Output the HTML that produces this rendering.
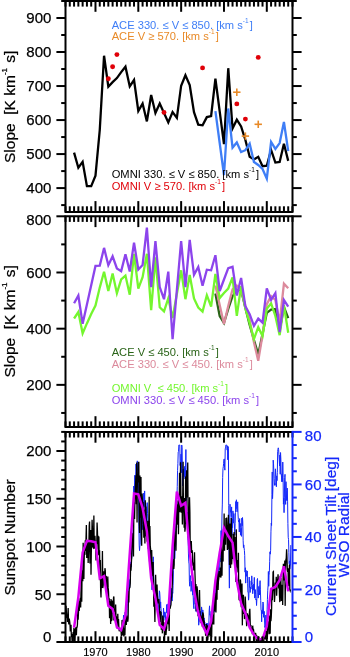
<!DOCTYPE html>
<html><head><meta charset="utf-8"><title>Slope plots</title>
<style>html,body{margin:0;padding:0;background:#fff;width:350px;height:657px;overflow:hidden;font-family:"Liberation Sans",sans-serif}</style>
</head><body><svg width="350" height="657" viewBox="0 0 350 657" font-family="&quot;Liberation Sans&quot;, sans-serif" style="display:block;will-change:transform"><rect width="350" height="657" fill="#fff"/>
<polyline points="74.07,152.60 78.35,167.70 82.63,161.80 86.92,186.20 91.20,186.20 95.48,175.70 99.76,130.00 104.05,55.70 108.33,86.70 112.61,82.10 116.90,78.10 121.18,72.10 125.46,66.70 129.75,86.40 134.03,80.00 138.31,111.00 142.59,103.60 146.88,121.40 151.16,95.00 155.44,112.90 159.73,103.60 164.01,112.90 168.29,122.40 172.58,112.10 176.86,117.90 181.14,85.70 185.42,75.30 189.71,85.00 193.99,112.10 198.27,124.70 202.56,125.30 206.84,117.10 211.12,116.00 215.41,78.60 219.69,111.40 223.97,144.20 228.25,68.20 232.54,128.50 236.82,119.70 241.10,126.50 245.39,140.00 249.67,156.80 253.95,159.50 258.24,156.80 262.52,166.20 266.80,165.70 271.08,150.00 275.37,162.60 279.65,162.00 283.93,143.70 288.22,160.90" fill="none" stroke="#000" stroke-width="2.3" stroke-linejoin="miter" stroke-miterlimit="4" />
<polyline points="215.41,111.10 219.69,143.00 223.97,175.20 228.25,108.50 232.54,147.60 236.82,142.50 241.10,152.10 245.39,150.20 249.67,143.70 253.95,162.00 258.24,165.00 262.52,169.00 266.80,178.60 271.08,142.00 275.37,148.90 279.65,143.10 283.93,122.00 288.22,151.10" fill="none" stroke="#3f7ef6" stroke-width="2.3" stroke-linejoin="miter" stroke-miterlimit="4" />
<circle cx="108.33" cy="78.80" r="2.45" fill="#e00008"/>
<circle cx="112.61" cy="66.70" r="2.45" fill="#e00008"/>
<circle cx="116.90" cy="54.60" r="2.45" fill="#e00008"/>
<circle cx="164.01" cy="112.40" r="2.45" fill="#e00008"/>
<circle cx="202.56" cy="67.90" r="2.45" fill="#e00008"/>
<circle cx="236.82" cy="103.90" r="2.45" fill="#e00008"/>
<circle cx="245.39" cy="119.10" r="2.45" fill="#e00008"/>
<circle cx="258.24" cy="57.40" r="2.45" fill="#e00008"/>
<line x1="233.12" y1="92.20" x2="240.52" y2="92.20" stroke="#e88a28" stroke-width="1.6"/>
<line x1="236.82" y1="88.50" x2="236.82" y2="95.90" stroke="#e88a28" stroke-width="1.6"/>
<line x1="241.69" y1="136.10" x2="249.09" y2="136.10" stroke="#e88a28" stroke-width="1.6"/>
<line x1="245.39" y1="132.40" x2="245.39" y2="139.80" stroke="#e88a28" stroke-width="1.6"/>
<line x1="254.54" y1="124.30" x2="261.94" y2="124.30" stroke="#e88a28" stroke-width="1.6"/>
<line x1="258.24" y1="120.60" x2="258.24" y2="128.00" stroke="#e88a28" stroke-width="1.6"/>
<polyline points="215.41,293.50 219.69,316.00 223.97,323.00 228.25,309.00 232.54,296.20 236.82,290.00 241.10,290.00 245.39,308.00 249.67,325.00 253.95,340.00 258.24,354.40 262.52,334.00 266.80,312.80 271.08,309.60 275.37,309.00 279.65,330.00 283.93,307.00 288.22,318.20" fill="none" stroke="#2a6418" stroke-width="2.3" stroke-linejoin="miter" stroke-miterlimit="4" />
<polyline points="215.41,285.60 219.69,305.00 223.97,323.90 228.25,306.00 232.54,289.30 236.82,285.60 241.10,290.00 245.39,306.00 249.67,320.00 253.95,342.20 258.24,360.80 262.52,335.00 266.80,304.20 271.08,296.20 275.37,300.00 279.65,322.40 283.93,283.60 288.22,288.20" fill="none" stroke="#dc8a9c" stroke-width="2.3" stroke-linejoin="miter" stroke-miterlimit="4" />
<polyline points="74.07,318.50 78.35,312.00 82.63,333.30 86.92,323.40 91.20,314.10 95.48,305.50 99.76,287.60 104.05,271.70 108.33,291.10 112.61,273.50 116.90,293.20 121.18,279.50 125.46,275.60 129.75,294.70 134.03,253.80 138.31,288.60 142.59,277.20 146.88,253.80 151.16,310.20 155.44,257.30 159.73,307.30 164.01,311.40 168.29,298.30 172.58,318.00 176.86,294.00 181.14,270.30 185.42,299.20 189.71,275.00 193.99,298.40 198.27,307.50 202.56,311.60 206.84,295.20 211.12,306.70 215.41,274.00 219.69,298.10 223.97,293.00 228.25,288.50 232.54,277.40 236.82,315.90 241.10,286.20 245.39,308.50 249.67,323.30 253.95,339.00 258.24,327.20 262.52,336.00 266.80,308.70 271.08,303.30 275.37,316.00 279.65,335.20 283.93,305.40 288.22,332.80" fill="none" stroke="#74f62e" stroke-width="2.3" stroke-linejoin="miter" stroke-miterlimit="4" />
<polyline points="74.07,303.30 78.35,295.60 82.63,323.80 86.92,304.50 91.20,285.20 95.48,265.90 99.76,265.60 104.05,247.90 108.33,265.20 112.61,256.30 116.90,268.40 121.18,271.10 125.46,254.30 129.75,271.50 134.03,242.60 138.31,269.50 142.59,265.00 146.88,227.60 151.16,287.10 155.44,241.00 159.73,287.10 164.01,299.20 168.29,271.60 172.58,339.20 176.86,290.00 181.14,241.00 185.42,287.10 189.71,239.80 193.99,274.90 198.27,267.00 202.56,285.70 206.84,269.70 211.12,270.30 215.41,255.20 219.69,291.00 223.97,279.50 228.25,268.10 232.54,266.80 236.82,295.50 241.10,278.00 245.39,306.30 249.67,314.20 253.95,325.80 258.24,318.60 262.52,322.70 266.80,288.30 271.08,299.90 275.37,293.20 279.65,332.20 283.93,299.90 288.22,306.60" fill="none" stroke="#8c44ec" stroke-width="2.3" stroke-linejoin="miter" stroke-miterlimit="4" />
<polyline points="122.89,619.54 123.21,622.03 123.53,615.17 123.85,623.67 124.17,623.47 124.49,622.96 124.81,617.02 125.13,612.12 125.45,622.86 125.77,623.76 126.09,616.34 126.41,617.22 126.73,621.75 127.05,608.21 127.37,603.51 127.69,599.57 128.01,600.87 128.33,589.98 128.65,590.75 128.97,580.10 129.29,586.71 129.61,587.96 129.93,578.96 130.25,579.33 130.57,566.93 130.89,561.87 131.21,567.07 131.53,559.60 131.85,557.50 132.17,541.97 132.49,545.17 132.81,542.50 133.13,522.52 133.45,498.97 133.76,486.06 134.08,496.19 134.40,494.79 134.72,475.28 135.04,480.29 135.36,489.59 135.68,477.88 136.00,464.02 136.32,470.17 136.64,482.00 136.96,487.28 137.28,460.86 137.60,471.27 137.92,475.73 138.24,478.48 138.56,493.53 138.88,526.89 139.20,545.41 139.52,550.61 139.84,546.19 140.16,544.46 140.48,512.73 140.80,501.48 141.12,508.84 141.44,511.09 141.76,511.72 142.08,502.92 142.40,524.48 142.72,529.73 143.04,525.60 143.36,493.19 143.68,494.48 144.00,506.98 144.32,505.18 144.64,490.93 144.96,508.24 145.28,518.78 145.60,508.47 145.92,511.30 146.24,511.53 146.56,524.12 146.88,506.67 147.20,502.60 147.52,513.32 147.83,518.95 148.15,548.79 148.47,539.83 148.79,544.52 149.11,542.53 149.43,540.79 149.75,550.38 150.07,568.06 150.39,560.49 150.71,567.45 151.03,568.79 151.35,572.57 151.67,573.12 151.99,589.87 152.31,571.44 152.63,570.86 152.95,565.08 153.27,556.82 153.59,568.41 153.91,588.44 154.23,592.60 154.55,597.78 154.87,596.27 155.19,592.45 155.51,605.67 155.83,596.91 156.15,605.73 156.47,598.87 156.79,598.94 157.11,601.07 157.43,601.37 157.75,605.03 158.07,607.77 158.39,616.27 158.71,610.89 159.03,597.50 159.35,590.77 159.67,592.04 159.99,596.96 160.31,608.05 160.63,601.92 160.95,608.09 161.27,611.80 161.59,615.47 161.91,615.66 162.22,618.50 162.54,618.19 162.86,623.68 163.18,622.73 163.50,608.08 163.82,613.69 164.14,617.27 164.46,614.46 164.78,611.89 165.10,620.32 165.42,619.42 165.74,612.60 166.06,612.53 166.38,612.83 166.70,604.53 167.02,612.45 167.34,611.77 167.66,614.47 167.98,603.92 168.30,618.04 168.62,616.65 168.94,614.39 169.26,605.34 169.58,600.27 169.90,592.02 170.22,605.51 170.54,596.46 170.86,596.45 171.18,597.44 171.50,588.29 171.82,592.19 172.14,601.05 172.46,591.92 172.78,593.30 173.10,585.23 173.42,570.81 173.74,561.49 174.06,543.58 174.38,547.21 174.70,558.73 175.02,552.87 175.34,547.83 175.66,544.80 175.98,522.62 176.29,518.89 176.61,527.75 176.93,497.17 177.25,486.42 177.57,470.55 177.89,463.63 178.21,451.92 178.53,451.56 178.85,445.03 179.17,445.03 179.49,445.03 179.81,445.03 180.13,465.54 180.45,461.24 180.77,460.59 181.09,454.07 181.41,472.69 181.73,445.03 182.05,447.41 182.37,468.43 182.69,485.96 183.01,475.85 183.33,468.85 183.65,475.51 183.97,469.26 184.29,476.92 184.61,466.42 184.93,478.80 185.25,477.34 185.57,467.59 185.89,449.56 186.21,487.59 186.53,503.52 186.85,518.77 187.17,512.02 187.49,532.26 187.81,538.66 188.13,540.80 188.45,553.95 188.77,561.87 189.09,563.98 189.41,581.20 189.73,586.25 190.05,581.03 190.37,575.61 190.68,577.14 191.00,591.38 191.32,590.04 191.64,581.84 191.96,580.97 192.28,585.95 192.60,595.10 192.92,590.52 193.24,597.50 193.56,605.87 193.88,608.71 194.20,596.66 194.52,599.08 194.84,595.36 195.16,604.27 195.48,601.00 195.80,609.28 196.12,611.55 196.44,597.53 196.76,600.84 197.08,610.09 197.40,612.72 197.72,612.13 198.04,607.33 198.36,614.65 198.68,625.20 199.00,622.62 199.32,619.92 199.64,618.26 199.96,611.10 200.28,613.15 200.60,611.71 200.92,621.45 201.24,615.97 201.56,606.93 201.88,609.67 202.20,613.99 202.52,616.86 202.84,609.95 203.16,620.89 203.48,622.28 203.80,620.21 204.12,617.92 204.44,623.06 204.75,622.00 205.07,624.65 205.39,624.14 205.71,625.37 206.03,631.26 206.35,628.74 206.67,623.20 206.99,629.47 207.31,628.58 207.63,623.39 207.95,629.34 208.27,625.80 208.59,630.16 208.91,620.94 209.23,610.04 209.55,605.83 209.87,615.08 210.19,614.55 210.51,617.30 210.83,618.59 211.15,611.33 211.47,621.49 211.79,613.12 212.11,614.09 212.43,605.68 212.75,607.44 213.07,612.47 213.39,608.48 213.71,602.29 214.03,602.13 214.35,598.10 214.67,601.19 214.99,612.01 215.31,596.81 215.63,588.58 215.95,586.37 216.27,584.24 216.59,574.70 216.91,579.03 217.23,581.64 217.55,577.60 217.87,563.73 218.19,575.49 218.51,559.62 218.83,564.98 219.14,570.28 219.46,551.84 219.78,552.59 220.10,562.12 220.42,557.46 220.74,542.19 221.06,530.58 221.38,538.17 221.70,532.89 222.02,513.98 222.34,504.08 222.66,477.39 222.98,468.74 223.30,466.72 223.62,463.38 223.94,459.40 224.26,458.92 224.58,467.61 224.90,470.16 225.22,448.43 225.54,448.53 225.86,445.03 226.18,445.03 226.50,445.03 226.82,445.03 227.14,450.11 227.46,445.94 227.78,459.75 228.10,446.53 228.42,448.65 228.74,505.59 229.06,562.11 229.38,588.14 229.70,542.01 230.02,504.19 230.34,512.25 230.66,511.46 230.98,509.71 231.30,516.66 231.62,506.92 231.94,535.42 232.26,519.04 232.58,527.69 232.90,510.90 233.21,514.61 233.53,523.11 233.85,513.55 234.17,522.10 234.49,526.06 234.81,535.18 235.13,523.67 235.45,512.51 235.77,501.52 236.09,508.69 236.41,499.78 236.73,506.51 237.05,511.82 237.37,508.13 237.69,501.85 238.01,513.96 238.33,519.54 238.65,522.04 238.97,521.38 239.29,532.02 239.61,518.58 239.93,527.07 240.25,523.48 240.57,535.21 240.89,530.18 241.21,528.32 241.53,536.35 241.85,518.10 242.17,525.75 242.49,517.50 242.81,522.11 243.13,540.22 243.45,547.59 243.77,544.90 244.09,547.90 244.41,550.49 244.73,555.65 245.05,572.12 245.37,567.76 245.69,583.14 246.01,570.24 246.33,573.80 246.65,576.39 246.97,574.67 247.29,570.94 247.60,583.20 247.92,592.22 248.24,592.17 248.56,600.16 248.88,596.78 249.20,577.06 249.52,587.43 249.84,580.80 250.16,592.48 250.48,586.97 250.80,589.19 251.12,589.05 251.44,585.24 251.76,575.86 252.08,581.44 252.40,584.61 252.72,593.69 253.04,587.60 253.36,590.22 253.68,584.16 254.00,587.24 254.32,577.40 254.64,598.08 254.96,597.37 255.28,589.55 255.60,594.26 255.92,599.89 256.24,599.09 256.56,605.53 256.88,598.68 257.20,579.65 257.52,578.48 257.84,592.72 258.16,598.11 258.48,597.06 258.80,586.44 259.12,593.03 259.44,595.00 259.76,584.62 260.08,580.65 260.40,589.88 260.72,600.75 261.04,610.20 261.36,610.72 261.67,621.80 261.99,609.98 262.31,613.70 262.63,610.25 262.95,602.00 263.27,603.30 263.59,617.30 263.91,613.80 264.23,611.35 264.55,620.96 264.87,627.46 265.19,625.80 265.51,630.36 265.83,615.08 266.15,627.31 266.47,625.33 266.79,618.41 267.11,609.69 267.43,599.47 267.75,590.23 268.07,585.62 268.39,571.47 268.71,586.26 269.03,575.13 269.35,572.65 269.67,561.32 269.99,551.79 270.31,554.15 270.63,550.27 270.95,531.86 271.27,523.09 271.59,525.46 271.91,494.77 272.23,471.96 272.55,498.66 272.87,490.02 273.19,460.16 273.51,463.88 273.83,471.11 274.15,478.64 274.47,485.25 274.79,483.31 275.11,485.29 275.43,468.82 275.75,474.28 276.06,476.65 276.38,486.74 276.70,475.97 277.02,480.65 277.34,472.70 277.66,451.46 277.98,449.17 278.30,447.84 278.62,449.60 278.94,454.86 279.26,460.36 279.58,465.90 279.90,455.06 280.22,474.24 280.54,452.53 280.86,459.18 281.18,473.07 281.50,477.03 281.82,481.83 282.14,473.86 282.46,481.55 282.78,462.05 283.10,477.26 283.42,504.13 283.74,498.37 284.06,512.67 284.38,497.09 284.70,477.40 285.02,474.30 285.34,498.09 285.66,504.41 285.98,481.66 286.30,490.16 286.62,500.54 286.94,497.03 287.26,488.10 287.58,501.14 287.90,523.63 288.22,537.30 288.54,539.36 288.86,552.33 289.18,563.68 289.50,560.94 289.82,569.13 290.13,566.96 290.45,565.10 290.77,545.10" fill="none" stroke="#1428fa" stroke-width="1.0" stroke-linejoin="miter" stroke-miterlimit="4" stroke-linejoin="round"/>
<polyline points="65.67,606.52 66.03,605.67 66.39,611.92 66.74,618.28 67.10,616.38 67.46,621.85 67.81,615.60 68.17,608.04 68.53,622.21 68.88,624.38 69.24,618.50 69.60,620.83 69.95,623.84 70.31,631.39 70.67,627.47 71.03,624.85 71.38,637.33 71.74,633.90 72.10,641.79 72.45,638.34 72.81,640.89 73.17,632.14 73.52,637.25 73.88,628.67 74.24,628.88 74.59,630.36 74.95,642.00 75.31,631.56 75.67,628.44 76.02,627.14 76.38,635.32 76.74,626.78 77.09,627.66 77.45,624.28 77.81,608.60 78.16,619.73 78.52,611.38 78.88,601.37 79.23,611.01 79.59,604.50 79.95,599.96 80.30,597.83 80.66,607.44 81.02,590.81 81.38,573.13 81.73,601.70 82.09,570.27 82.45,575.24 82.80,581.19 83.16,542.70 83.52,555.04 83.87,578.89 84.23,556.98 84.59,545.58 84.94,554.89 85.30,540.31 85.66,551.08 86.02,538.46 86.37,525.05 86.73,558.06 87.09,542.87 87.44,552.82 87.80,542.15 88.16,563.06 88.51,552.05 88.87,544.68 89.23,525.63 89.58,521.49 89.94,563.39 90.30,554.45 90.66,530.04 91.01,574.80 91.37,548.92 91.73,542.75 92.08,519.85 92.44,529.50 92.80,546.74 93.15,547.47 93.51,545.52 93.87,515.61 94.22,548.68 94.58,546.65 94.94,535.66 95.30,543.72 95.65,545.09 96.01,560.60 96.37,542.12 96.72,549.46 97.08,522.48 97.44,531.19 97.79,544.05 98.15,535.83 98.51,555.06 98.86,536.47 99.22,555.80 99.58,550.19 99.94,580.15 100.29,559.96 100.65,590.52 101.01,597.41 101.36,577.67 101.72,587.89 102.08,576.32 102.43,550.91 102.79,588.05 103.15,585.35 103.50,575.07 103.86,571.37 104.22,579.37 104.58,579.55 104.93,568.21 105.29,570.26 105.65,589.23 106.00,577.27 106.36,576.95 106.72,592.39 107.07,579.29 107.43,594.42 107.79,576.58 108.14,587.63 108.50,591.22 108.86,600.49 109.22,598.20 109.57,618.18 109.93,612.18 110.29,601.27 110.64,623.98 111.00,598.94 111.36,621.15 111.71,600.31 112.07,614.04 112.43,600.74 112.78,606.43 113.14,620.50 113.50,597.79 113.86,596.54 114.21,609.17 114.57,611.13 114.93,611.06 115.28,618.91 115.64,604.44 116.00,618.34 116.35,616.20 116.71,622.91 117.07,623.13 117.42,628.84 117.78,613.78 118.14,624.35 118.50,619.06 118.85,626.33 119.21,631.29 119.57,629.40 119.92,630.95 120.28,627.96 120.64,630.34 120.99,630.14 121.35,636.34 121.71,633.38 122.06,620.07 122.42,633.05 122.78,635.34 123.14,628.03 123.49,621.72 123.85,636.37 124.21,628.23 124.56,629.58 124.92,635.35 125.28,618.89 125.63,622.43 125.99,620.63 126.35,624.95 126.70,615.61 127.06,621.31 127.42,617.38 127.78,621.63 128.13,618.09 128.49,591.02 128.85,602.59 129.20,589.57 129.56,587.76 129.92,587.33 130.27,583.27 130.63,563.72 130.99,570.81 131.34,563.69 131.70,556.02 132.06,532.89 132.42,535.18 132.77,534.78 133.13,546.14 133.49,556.41 133.84,508.31 134.20,502.36 134.56,519.06 134.91,499.93 135.27,489.43 135.63,482.81 135.98,475.21 136.34,504.15 136.70,462.46 137.05,522.54 137.41,473.92 137.77,482.48 138.13,473.79 138.48,462.46 138.84,462.46 139.20,520.52 139.55,533.09 139.91,475.45 140.27,517.69 140.62,495.18 140.98,476.89 141.34,534.39 141.69,545.77 142.05,493.62 142.41,499.56 142.77,507.10 143.12,501.97 143.48,522.67 143.84,537.79 144.19,509.78 144.55,528.05 144.91,543.58 145.26,500.25 145.62,514.02 145.98,506.42 146.33,536.55 146.69,531.67 147.05,540.14 147.41,539.66 147.76,520.72 148.12,541.16 148.48,521.73 148.83,524.07 149.19,496.82 149.55,561.43 149.90,526.00 150.26,546.44 150.62,549.12 150.97,575.16 151.33,563.60 151.69,549.97 152.05,565.73 152.40,567.43 152.76,576.17 153.12,562.09 153.47,579.45 153.83,606.74 154.19,590.48 154.54,606.46 154.90,621.96 155.26,593.21 155.61,574.80 155.97,590.23 156.33,604.41 156.69,603.48 157.04,584.53 157.40,595.79 157.76,598.78 158.11,601.95 158.47,603.35 158.83,599.07 159.18,603.61 159.54,608.67 159.90,620.57 160.25,611.08 160.61,621.89 160.97,611.88 161.33,629.76 161.68,624.60 162.04,625.12 162.40,633.35 162.75,615.59 163.11,617.56 163.47,629.21 163.82,622.40 164.18,625.05 164.54,642.00 164.89,626.53 165.25,628.64 165.61,628.20 165.97,634.95 166.32,630.09 166.68,628.34 167.04,619.04 167.39,622.75 167.75,623.53 168.11,612.45 168.46,624.59 168.82,622.30 169.18,630.92 169.53,606.07 169.89,608.90 170.25,607.82 170.61,605.99 170.96,604.64 171.32,597.95 171.68,596.84 172.03,590.87 172.39,582.42 172.75,558.94 173.10,564.58 173.46,566.94 173.82,568.86 174.17,564.49 174.53,523.79 174.89,535.73 175.25,538.39 175.60,541.12 175.96,550.74 176.32,527.11 176.67,504.23 177.03,524.60 177.39,516.84 177.74,512.28 178.10,500.60 178.46,534.25 178.81,499.30 179.17,511.98 179.53,472.77 179.89,512.18 180.24,482.46 180.60,462.25 180.96,505.10 181.31,512.69 181.67,496.17 182.03,501.66 182.38,524.58 182.74,493.97 183.10,461.65 183.45,511.26 183.81,509.83 184.17,527.78 184.53,498.05 184.88,531.73 185.24,528.48 185.60,476.41 185.95,523.68 186.31,480.16 186.67,470.20 187.02,497.56 187.38,490.87 187.74,462.55 188.09,513.07 188.45,525.21 188.81,544.23 189.17,520.37 189.52,497.18 189.88,511.65 190.24,550.35 190.59,552.43 190.95,550.14 191.31,540.95 191.66,553.06 192.02,550.17 192.38,552.19 192.73,564.11 193.09,563.50 193.45,563.27 193.80,570.37 194.16,565.94 194.52,552.27 194.88,571.61 195.23,581.25 195.59,603.98 195.95,584.02 196.30,611.19 196.66,607.17 197.02,586.22 197.37,589.84 197.73,600.08 198.09,616.36 198.44,605.92 198.80,610.46 199.16,601.16 199.52,590.03 199.87,608.74 200.23,618.40 200.59,622.66 200.94,615.32 201.30,617.17 201.66,625.04 202.01,617.06 202.37,626.71 202.73,612.39 203.08,613.84 203.44,614.82 203.80,625.79 204.16,620.60 204.51,625.57 204.87,627.94 205.23,628.32 205.58,634.54 205.94,635.94 206.30,624.03 206.65,630.22 207.01,628.71 207.37,625.27 207.72,640.33 208.08,636.02 208.44,631.83 208.80,631.48 209.15,635.16 209.51,627.03 209.87,630.14 210.22,636.71 210.58,634.29 210.94,623.64 211.29,624.47 211.65,637.29 212.01,616.97 212.36,620.37 212.72,614.58 213.08,624.46 213.44,621.81 213.79,624.47 214.15,593.77 214.51,611.02 214.86,592.76 215.22,608.57 215.58,597.86 215.93,612.37 216.29,596.51 216.65,578.66 217.00,599.70 217.36,569.96 217.72,575.46 218.08,589.96 218.43,581.16 218.79,578.46 219.15,570.91 219.50,575.16 219.86,577.01 220.22,567.61 220.57,575.76 220.93,577.60 221.29,557.13 221.64,540.64 222.00,575.65 222.36,549.75 222.72,558.16 223.07,561.59 223.43,529.34 223.79,550.18 224.14,513.62 224.50,550.84 224.86,528.30 225.21,537.14 225.57,544.73 225.93,517.98 226.28,531.00 226.64,517.61 227.00,530.35 227.36,550.10 227.71,532.71 228.07,530.59 228.43,514.88 228.78,549.22 229.14,534.29 229.50,564.96 229.85,523.40 230.21,554.72 230.57,567.99 230.92,537.86 231.28,518.11 231.64,564.38 232.00,557.29 232.35,551.83 232.71,558.95 233.07,533.69 233.42,554.43 233.78,553.48 234.14,532.01 234.49,555.06 234.85,537.06 235.21,563.08 235.56,569.66 235.92,581.89 236.28,529.38 236.64,564.88 236.99,560.04 237.35,567.09 237.71,567.77 238.06,572.45 238.42,552.70 238.78,591.91 239.13,600.14 239.49,595.42 239.85,600.62 240.20,579.49 240.56,580.74 240.92,601.33 241.28,607.32 241.63,598.56 241.99,583.42 242.35,625.37 242.70,595.75 243.06,612.09 243.42,594.69 243.77,614.02 244.13,607.95 244.49,619.09 244.84,615.35 245.20,596.63 245.56,602.22 245.92,612.95 246.27,617.45 246.63,626.18 246.99,615.28 247.34,613.34 247.70,614.72 248.06,615.94 248.41,624.44 248.77,618.05 249.13,619.01 249.48,611.27 249.84,608.86 250.20,623.11 250.55,628.17 250.91,624.95 251.27,629.33 251.63,631.18 251.98,628.11 252.34,634.22 252.70,625.66 253.05,630.18 253.41,628.89 253.77,631.81 254.12,635.23 254.48,636.91 254.84,633.87 255.19,636.01 255.55,632.77 255.91,634.54 256.27,641.45 256.62,635.07 256.98,641.97 257.34,638.94 257.69,637.81 258.05,642.00 258.41,636.80 258.76,636.91 259.12,638.63 259.48,640.13 259.83,640.26 260.19,642.00 260.55,640.35 260.91,641.52 261.26,638.81 261.62,642.00 261.98,638.17 262.33,638.54 262.69,639.72 263.05,640.95 263.40,636.78 263.76,642.00 264.12,637.13 264.47,638.03 264.83,637.32 265.19,635.77 265.55,639.37 265.90,636.54 266.26,631.19 266.62,631.06 266.97,631.07 267.33,639.00 267.69,627.10 268.04,622.48 268.40,622.15 268.76,625.44 269.11,634.19 269.47,615.53 269.83,619.52 270.19,633.82 270.54,609.37 270.90,621.22 271.26,617.04 271.61,608.56 271.97,587.94 272.33,600.27 272.68,590.81 273.04,572.03 273.40,571.61 273.75,589.70 274.11,591.04 274.47,601.90 274.83,595.65 275.18,583.37 275.54,583.53 275.90,586.48 276.25,576.68 276.61,595.81 276.97,587.84 277.32,579.06 277.68,580.29 278.04,574.29 278.39,581.16 278.75,588.50 279.11,580.37 279.47,595.30 279.82,602.10 280.18,576.08 280.54,582.84 280.89,578.04 281.25,601.00 281.61,584.82 281.96,586.81 282.32,588.93 282.68,604.90 283.03,580.31 283.39,563.76 283.75,569.01 284.11,580.39 284.46,571.71 284.82,560.42 285.18,605.87 285.53,569.71 285.89,559.49 286.25,558.04 286.60,549.37 286.96,556.71 287.32,569.58 287.67,571.89 288.03,568.16 288.39,586.25 288.75,582.39 289.10,573.72 289.46,564.41 289.82,589.93 290.17,590.81 290.53,589.32" fill="none" stroke="#000" stroke-width="1.3" stroke-linejoin="miter" stroke-miterlimit="4" stroke-linejoin="round"/>
<polyline points="74.07,627.58 78.35,597.12 82.63,552.42 86.92,540.87 91.20,541.25 95.48,542.20 99.76,578.40 104.05,576.20 108.33,605.71 112.61,609.05 116.90,627.20 121.18,629.97 125.46,615.74 129.75,553.66 134.03,493.59 138.31,494.36 142.59,507.92 146.88,531.32 151.16,578.40 155.44,598.17 159.73,624.91 164.01,629.20 168.29,613.92 172.58,546.31 176.86,491.49 181.14,505.82 185.42,502.86 189.71,551.94 193.99,589.86 198.27,613.45 202.56,625.29 206.84,633.79 211.12,621.47 215.41,580.59 219.69,552.90 223.97,527.78 228.25,536.00 232.54,542.68 236.82,581.17 241.10,603.42 245.39,613.54 249.67,627.48 253.95,634.84 258.24,639.23 262.52,639.04 266.80,626.24 271.08,588.81 275.37,586.99 279.65,580.21 283.93,566.27 288.22,591.38" fill="none" stroke="#d800ee" stroke-width="2.5" stroke-linejoin="miter" stroke-miterlimit="4" />
<line x1="65.50" y1="1.00" x2="65.50" y2="6.60" stroke="#000" stroke-width="2.0"/>
<line x1="65.50" y1="211.90" x2="65.50" y2="206.30" stroke="#000" stroke-width="2.0"/>
<line x1="69.78" y1="1.00" x2="69.78" y2="6.60" stroke="#000" stroke-width="2.0"/>
<line x1="69.78" y1="211.90" x2="69.78" y2="206.30" stroke="#000" stroke-width="2.0"/>
<line x1="74.07" y1="1.00" x2="74.07" y2="6.60" stroke="#000" stroke-width="2.0"/>
<line x1="74.07" y1="211.90" x2="74.07" y2="206.30" stroke="#000" stroke-width="2.0"/>
<line x1="78.35" y1="1.00" x2="78.35" y2="6.60" stroke="#000" stroke-width="2.0"/>
<line x1="78.35" y1="211.90" x2="78.35" y2="206.30" stroke="#000" stroke-width="2.0"/>
<line x1="82.63" y1="1.00" x2="82.63" y2="6.60" stroke="#000" stroke-width="2.0"/>
<line x1="82.63" y1="211.90" x2="82.63" y2="206.30" stroke="#000" stroke-width="2.0"/>
<line x1="86.92" y1="1.00" x2="86.92" y2="6.60" stroke="#000" stroke-width="2.0"/>
<line x1="86.92" y1="211.90" x2="86.92" y2="206.30" stroke="#000" stroke-width="2.0"/>
<line x1="91.20" y1="1.00" x2="91.20" y2="6.60" stroke="#000" stroke-width="2.0"/>
<line x1="91.20" y1="211.90" x2="91.20" y2="206.30" stroke="#000" stroke-width="2.0"/>
<line x1="95.48" y1="1.00" x2="95.48" y2="11.80" stroke="#000" stroke-width="2.0"/>
<line x1="95.48" y1="211.90" x2="95.48" y2="201.10" stroke="#000" stroke-width="2.0"/>
<line x1="99.76" y1="1.00" x2="99.76" y2="6.60" stroke="#000" stroke-width="2.0"/>
<line x1="99.76" y1="211.90" x2="99.76" y2="206.30" stroke="#000" stroke-width="2.0"/>
<line x1="104.05" y1="1.00" x2="104.05" y2="6.60" stroke="#000" stroke-width="2.0"/>
<line x1="104.05" y1="211.90" x2="104.05" y2="206.30" stroke="#000" stroke-width="2.0"/>
<line x1="108.33" y1="1.00" x2="108.33" y2="6.60" stroke="#000" stroke-width="2.0"/>
<line x1="108.33" y1="211.90" x2="108.33" y2="206.30" stroke="#000" stroke-width="2.0"/>
<line x1="112.61" y1="1.00" x2="112.61" y2="6.60" stroke="#000" stroke-width="2.0"/>
<line x1="112.61" y1="211.90" x2="112.61" y2="206.30" stroke="#000" stroke-width="2.0"/>
<line x1="116.90" y1="1.00" x2="116.90" y2="6.60" stroke="#000" stroke-width="2.0"/>
<line x1="116.90" y1="211.90" x2="116.90" y2="206.30" stroke="#000" stroke-width="2.0"/>
<line x1="121.18" y1="1.00" x2="121.18" y2="6.60" stroke="#000" stroke-width="2.0"/>
<line x1="121.18" y1="211.90" x2="121.18" y2="206.30" stroke="#000" stroke-width="2.0"/>
<line x1="125.46" y1="1.00" x2="125.46" y2="6.60" stroke="#000" stroke-width="2.0"/>
<line x1="125.46" y1="211.90" x2="125.46" y2="206.30" stroke="#000" stroke-width="2.0"/>
<line x1="129.75" y1="1.00" x2="129.75" y2="6.60" stroke="#000" stroke-width="2.0"/>
<line x1="129.75" y1="211.90" x2="129.75" y2="206.30" stroke="#000" stroke-width="2.0"/>
<line x1="134.03" y1="1.00" x2="134.03" y2="6.60" stroke="#000" stroke-width="2.0"/>
<line x1="134.03" y1="211.90" x2="134.03" y2="206.30" stroke="#000" stroke-width="2.0"/>
<line x1="138.31" y1="1.00" x2="138.31" y2="11.80" stroke="#000" stroke-width="2.0"/>
<line x1="138.31" y1="211.90" x2="138.31" y2="201.10" stroke="#000" stroke-width="2.0"/>
<line x1="142.59" y1="1.00" x2="142.59" y2="6.60" stroke="#000" stroke-width="2.0"/>
<line x1="142.59" y1="211.90" x2="142.59" y2="206.30" stroke="#000" stroke-width="2.0"/>
<line x1="146.88" y1="1.00" x2="146.88" y2="6.60" stroke="#000" stroke-width="2.0"/>
<line x1="146.88" y1="211.90" x2="146.88" y2="206.30" stroke="#000" stroke-width="2.0"/>
<line x1="151.16" y1="1.00" x2="151.16" y2="6.60" stroke="#000" stroke-width="2.0"/>
<line x1="151.16" y1="211.90" x2="151.16" y2="206.30" stroke="#000" stroke-width="2.0"/>
<line x1="155.44" y1="1.00" x2="155.44" y2="6.60" stroke="#000" stroke-width="2.0"/>
<line x1="155.44" y1="211.90" x2="155.44" y2="206.30" stroke="#000" stroke-width="2.0"/>
<line x1="159.73" y1="1.00" x2="159.73" y2="6.60" stroke="#000" stroke-width="2.0"/>
<line x1="159.73" y1="211.90" x2="159.73" y2="206.30" stroke="#000" stroke-width="2.0"/>
<line x1="164.01" y1="1.00" x2="164.01" y2="6.60" stroke="#000" stroke-width="2.0"/>
<line x1="164.01" y1="211.90" x2="164.01" y2="206.30" stroke="#000" stroke-width="2.0"/>
<line x1="168.29" y1="1.00" x2="168.29" y2="6.60" stroke="#000" stroke-width="2.0"/>
<line x1="168.29" y1="211.90" x2="168.29" y2="206.30" stroke="#000" stroke-width="2.0"/>
<line x1="172.58" y1="1.00" x2="172.58" y2="6.60" stroke="#000" stroke-width="2.0"/>
<line x1="172.58" y1="211.90" x2="172.58" y2="206.30" stroke="#000" stroke-width="2.0"/>
<line x1="176.86" y1="1.00" x2="176.86" y2="6.60" stroke="#000" stroke-width="2.0"/>
<line x1="176.86" y1="211.90" x2="176.86" y2="206.30" stroke="#000" stroke-width="2.0"/>
<line x1="181.14" y1="1.00" x2="181.14" y2="11.80" stroke="#000" stroke-width="2.0"/>
<line x1="181.14" y1="211.90" x2="181.14" y2="201.10" stroke="#000" stroke-width="2.0"/>
<line x1="185.42" y1="1.00" x2="185.42" y2="6.60" stroke="#000" stroke-width="2.0"/>
<line x1="185.42" y1="211.90" x2="185.42" y2="206.30" stroke="#000" stroke-width="2.0"/>
<line x1="189.71" y1="1.00" x2="189.71" y2="6.60" stroke="#000" stroke-width="2.0"/>
<line x1="189.71" y1="211.90" x2="189.71" y2="206.30" stroke="#000" stroke-width="2.0"/>
<line x1="193.99" y1="1.00" x2="193.99" y2="6.60" stroke="#000" stroke-width="2.0"/>
<line x1="193.99" y1="211.90" x2="193.99" y2="206.30" stroke="#000" stroke-width="2.0"/>
<line x1="198.27" y1="1.00" x2="198.27" y2="6.60" stroke="#000" stroke-width="2.0"/>
<line x1="198.27" y1="211.90" x2="198.27" y2="206.30" stroke="#000" stroke-width="2.0"/>
<line x1="202.56" y1="1.00" x2="202.56" y2="6.60" stroke="#000" stroke-width="2.0"/>
<line x1="202.56" y1="211.90" x2="202.56" y2="206.30" stroke="#000" stroke-width="2.0"/>
<line x1="206.84" y1="1.00" x2="206.84" y2="6.60" stroke="#000" stroke-width="2.0"/>
<line x1="206.84" y1="211.90" x2="206.84" y2="206.30" stroke="#000" stroke-width="2.0"/>
<line x1="211.12" y1="1.00" x2="211.12" y2="6.60" stroke="#000" stroke-width="2.0"/>
<line x1="211.12" y1="211.90" x2="211.12" y2="206.30" stroke="#000" stroke-width="2.0"/>
<line x1="215.41" y1="1.00" x2="215.41" y2="6.60" stroke="#000" stroke-width="2.0"/>
<line x1="215.41" y1="211.90" x2="215.41" y2="206.30" stroke="#000" stroke-width="2.0"/>
<line x1="219.69" y1="1.00" x2="219.69" y2="6.60" stroke="#000" stroke-width="2.0"/>
<line x1="219.69" y1="211.90" x2="219.69" y2="206.30" stroke="#000" stroke-width="2.0"/>
<line x1="223.97" y1="1.00" x2="223.97" y2="11.80" stroke="#000" stroke-width="2.0"/>
<line x1="223.97" y1="211.90" x2="223.97" y2="201.10" stroke="#000" stroke-width="2.0"/>
<line x1="228.25" y1="1.00" x2="228.25" y2="6.60" stroke="#000" stroke-width="2.0"/>
<line x1="228.25" y1="211.90" x2="228.25" y2="206.30" stroke="#000" stroke-width="2.0"/>
<line x1="232.54" y1="1.00" x2="232.54" y2="6.60" stroke="#000" stroke-width="2.0"/>
<line x1="232.54" y1="211.90" x2="232.54" y2="206.30" stroke="#000" stroke-width="2.0"/>
<line x1="236.82" y1="1.00" x2="236.82" y2="6.60" stroke="#000" stroke-width="2.0"/>
<line x1="236.82" y1="211.90" x2="236.82" y2="206.30" stroke="#000" stroke-width="2.0"/>
<line x1="241.10" y1="1.00" x2="241.10" y2="6.60" stroke="#000" stroke-width="2.0"/>
<line x1="241.10" y1="211.90" x2="241.10" y2="206.30" stroke="#000" stroke-width="2.0"/>
<line x1="245.39" y1="1.00" x2="245.39" y2="6.60" stroke="#000" stroke-width="2.0"/>
<line x1="245.39" y1="211.90" x2="245.39" y2="206.30" stroke="#000" stroke-width="2.0"/>
<line x1="249.67" y1="1.00" x2="249.67" y2="6.60" stroke="#000" stroke-width="2.0"/>
<line x1="249.67" y1="211.90" x2="249.67" y2="206.30" stroke="#000" stroke-width="2.0"/>
<line x1="253.95" y1="1.00" x2="253.95" y2="6.60" stroke="#000" stroke-width="2.0"/>
<line x1="253.95" y1="211.90" x2="253.95" y2="206.30" stroke="#000" stroke-width="2.0"/>
<line x1="258.24" y1="1.00" x2="258.24" y2="6.60" stroke="#000" stroke-width="2.0"/>
<line x1="258.24" y1="211.90" x2="258.24" y2="206.30" stroke="#000" stroke-width="2.0"/>
<line x1="262.52" y1="1.00" x2="262.52" y2="6.60" stroke="#000" stroke-width="2.0"/>
<line x1="262.52" y1="211.90" x2="262.52" y2="206.30" stroke="#000" stroke-width="2.0"/>
<line x1="266.80" y1="1.00" x2="266.80" y2="11.80" stroke="#000" stroke-width="2.0"/>
<line x1="266.80" y1="211.90" x2="266.80" y2="201.10" stroke="#000" stroke-width="2.0"/>
<line x1="271.08" y1="1.00" x2="271.08" y2="6.60" stroke="#000" stroke-width="2.0"/>
<line x1="271.08" y1="211.90" x2="271.08" y2="206.30" stroke="#000" stroke-width="2.0"/>
<line x1="275.37" y1="1.00" x2="275.37" y2="6.60" stroke="#000" stroke-width="2.0"/>
<line x1="275.37" y1="211.90" x2="275.37" y2="206.30" stroke="#000" stroke-width="2.0"/>
<line x1="279.65" y1="1.00" x2="279.65" y2="6.60" stroke="#000" stroke-width="2.0"/>
<line x1="279.65" y1="211.90" x2="279.65" y2="206.30" stroke="#000" stroke-width="2.0"/>
<line x1="283.93" y1="1.00" x2="283.93" y2="6.60" stroke="#000" stroke-width="2.0"/>
<line x1="283.93" y1="211.90" x2="283.93" y2="206.30" stroke="#000" stroke-width="2.0"/>
<line x1="288.22" y1="1.00" x2="288.22" y2="6.60" stroke="#000" stroke-width="2.0"/>
<line x1="288.22" y1="211.90" x2="288.22" y2="206.30" stroke="#000" stroke-width="2.0"/>
<line x1="292.50" y1="1.00" x2="292.50" y2="6.60" stroke="#000" stroke-width="2.0"/>
<line x1="292.50" y1="211.90" x2="292.50" y2="206.30" stroke="#000" stroke-width="2.0"/>
<line x1="65.50" y1="216.30" x2="65.50" y2="221.90" stroke="#000" stroke-width="2.0"/>
<line x1="65.50" y1="427.00" x2="65.50" y2="421.40" stroke="#000" stroke-width="2.0"/>
<line x1="69.78" y1="216.30" x2="69.78" y2="221.90" stroke="#000" stroke-width="2.0"/>
<line x1="69.78" y1="427.00" x2="69.78" y2="421.40" stroke="#000" stroke-width="2.0"/>
<line x1="74.07" y1="216.30" x2="74.07" y2="221.90" stroke="#000" stroke-width="2.0"/>
<line x1="74.07" y1="427.00" x2="74.07" y2="421.40" stroke="#000" stroke-width="2.0"/>
<line x1="78.35" y1="216.30" x2="78.35" y2="221.90" stroke="#000" stroke-width="2.0"/>
<line x1="78.35" y1="427.00" x2="78.35" y2="421.40" stroke="#000" stroke-width="2.0"/>
<line x1="82.63" y1="216.30" x2="82.63" y2="221.90" stroke="#000" stroke-width="2.0"/>
<line x1="82.63" y1="427.00" x2="82.63" y2="421.40" stroke="#000" stroke-width="2.0"/>
<line x1="86.92" y1="216.30" x2="86.92" y2="221.90" stroke="#000" stroke-width="2.0"/>
<line x1="86.92" y1="427.00" x2="86.92" y2="421.40" stroke="#000" stroke-width="2.0"/>
<line x1="91.20" y1="216.30" x2="91.20" y2="221.90" stroke="#000" stroke-width="2.0"/>
<line x1="91.20" y1="427.00" x2="91.20" y2="421.40" stroke="#000" stroke-width="2.0"/>
<line x1="95.48" y1="216.30" x2="95.48" y2="227.10" stroke="#000" stroke-width="2.0"/>
<line x1="95.48" y1="427.00" x2="95.48" y2="416.20" stroke="#000" stroke-width="2.0"/>
<line x1="99.76" y1="216.30" x2="99.76" y2="221.90" stroke="#000" stroke-width="2.0"/>
<line x1="99.76" y1="427.00" x2="99.76" y2="421.40" stroke="#000" stroke-width="2.0"/>
<line x1="104.05" y1="216.30" x2="104.05" y2="221.90" stroke="#000" stroke-width="2.0"/>
<line x1="104.05" y1="427.00" x2="104.05" y2="421.40" stroke="#000" stroke-width="2.0"/>
<line x1="108.33" y1="216.30" x2="108.33" y2="221.90" stroke="#000" stroke-width="2.0"/>
<line x1="108.33" y1="427.00" x2="108.33" y2="421.40" stroke="#000" stroke-width="2.0"/>
<line x1="112.61" y1="216.30" x2="112.61" y2="221.90" stroke="#000" stroke-width="2.0"/>
<line x1="112.61" y1="427.00" x2="112.61" y2="421.40" stroke="#000" stroke-width="2.0"/>
<line x1="116.90" y1="216.30" x2="116.90" y2="221.90" stroke="#000" stroke-width="2.0"/>
<line x1="116.90" y1="427.00" x2="116.90" y2="421.40" stroke="#000" stroke-width="2.0"/>
<line x1="121.18" y1="216.30" x2="121.18" y2="221.90" stroke="#000" stroke-width="2.0"/>
<line x1="121.18" y1="427.00" x2="121.18" y2="421.40" stroke="#000" stroke-width="2.0"/>
<line x1="125.46" y1="216.30" x2="125.46" y2="221.90" stroke="#000" stroke-width="2.0"/>
<line x1="125.46" y1="427.00" x2="125.46" y2="421.40" stroke="#000" stroke-width="2.0"/>
<line x1="129.75" y1="216.30" x2="129.75" y2="221.90" stroke="#000" stroke-width="2.0"/>
<line x1="129.75" y1="427.00" x2="129.75" y2="421.40" stroke="#000" stroke-width="2.0"/>
<line x1="134.03" y1="216.30" x2="134.03" y2="221.90" stroke="#000" stroke-width="2.0"/>
<line x1="134.03" y1="427.00" x2="134.03" y2="421.40" stroke="#000" stroke-width="2.0"/>
<line x1="138.31" y1="216.30" x2="138.31" y2="227.10" stroke="#000" stroke-width="2.0"/>
<line x1="138.31" y1="427.00" x2="138.31" y2="416.20" stroke="#000" stroke-width="2.0"/>
<line x1="142.59" y1="216.30" x2="142.59" y2="221.90" stroke="#000" stroke-width="2.0"/>
<line x1="142.59" y1="427.00" x2="142.59" y2="421.40" stroke="#000" stroke-width="2.0"/>
<line x1="146.88" y1="216.30" x2="146.88" y2="221.90" stroke="#000" stroke-width="2.0"/>
<line x1="146.88" y1="427.00" x2="146.88" y2="421.40" stroke="#000" stroke-width="2.0"/>
<line x1="151.16" y1="216.30" x2="151.16" y2="221.90" stroke="#000" stroke-width="2.0"/>
<line x1="151.16" y1="427.00" x2="151.16" y2="421.40" stroke="#000" stroke-width="2.0"/>
<line x1="155.44" y1="216.30" x2="155.44" y2="221.90" stroke="#000" stroke-width="2.0"/>
<line x1="155.44" y1="427.00" x2="155.44" y2="421.40" stroke="#000" stroke-width="2.0"/>
<line x1="159.73" y1="216.30" x2="159.73" y2="221.90" stroke="#000" stroke-width="2.0"/>
<line x1="159.73" y1="427.00" x2="159.73" y2="421.40" stroke="#000" stroke-width="2.0"/>
<line x1="164.01" y1="216.30" x2="164.01" y2="221.90" stroke="#000" stroke-width="2.0"/>
<line x1="164.01" y1="427.00" x2="164.01" y2="421.40" stroke="#000" stroke-width="2.0"/>
<line x1="168.29" y1="216.30" x2="168.29" y2="221.90" stroke="#000" stroke-width="2.0"/>
<line x1="168.29" y1="427.00" x2="168.29" y2="421.40" stroke="#000" stroke-width="2.0"/>
<line x1="172.58" y1="216.30" x2="172.58" y2="221.90" stroke="#000" stroke-width="2.0"/>
<line x1="172.58" y1="427.00" x2="172.58" y2="421.40" stroke="#000" stroke-width="2.0"/>
<line x1="176.86" y1="216.30" x2="176.86" y2="221.90" stroke="#000" stroke-width="2.0"/>
<line x1="176.86" y1="427.00" x2="176.86" y2="421.40" stroke="#000" stroke-width="2.0"/>
<line x1="181.14" y1="216.30" x2="181.14" y2="227.10" stroke="#000" stroke-width="2.0"/>
<line x1="181.14" y1="427.00" x2="181.14" y2="416.20" stroke="#000" stroke-width="2.0"/>
<line x1="185.42" y1="216.30" x2="185.42" y2="221.90" stroke="#000" stroke-width="2.0"/>
<line x1="185.42" y1="427.00" x2="185.42" y2="421.40" stroke="#000" stroke-width="2.0"/>
<line x1="189.71" y1="216.30" x2="189.71" y2="221.90" stroke="#000" stroke-width="2.0"/>
<line x1="189.71" y1="427.00" x2="189.71" y2="421.40" stroke="#000" stroke-width="2.0"/>
<line x1="193.99" y1="216.30" x2="193.99" y2="221.90" stroke="#000" stroke-width="2.0"/>
<line x1="193.99" y1="427.00" x2="193.99" y2="421.40" stroke="#000" stroke-width="2.0"/>
<line x1="198.27" y1="216.30" x2="198.27" y2="221.90" stroke="#000" stroke-width="2.0"/>
<line x1="198.27" y1="427.00" x2="198.27" y2="421.40" stroke="#000" stroke-width="2.0"/>
<line x1="202.56" y1="216.30" x2="202.56" y2="221.90" stroke="#000" stroke-width="2.0"/>
<line x1="202.56" y1="427.00" x2="202.56" y2="421.40" stroke="#000" stroke-width="2.0"/>
<line x1="206.84" y1="216.30" x2="206.84" y2="221.90" stroke="#000" stroke-width="2.0"/>
<line x1="206.84" y1="427.00" x2="206.84" y2="421.40" stroke="#000" stroke-width="2.0"/>
<line x1="211.12" y1="216.30" x2="211.12" y2="221.90" stroke="#000" stroke-width="2.0"/>
<line x1="211.12" y1="427.00" x2="211.12" y2="421.40" stroke="#000" stroke-width="2.0"/>
<line x1="215.41" y1="216.30" x2="215.41" y2="221.90" stroke="#000" stroke-width="2.0"/>
<line x1="215.41" y1="427.00" x2="215.41" y2="421.40" stroke="#000" stroke-width="2.0"/>
<line x1="219.69" y1="216.30" x2="219.69" y2="221.90" stroke="#000" stroke-width="2.0"/>
<line x1="219.69" y1="427.00" x2="219.69" y2="421.40" stroke="#000" stroke-width="2.0"/>
<line x1="223.97" y1="216.30" x2="223.97" y2="227.10" stroke="#000" stroke-width="2.0"/>
<line x1="223.97" y1="427.00" x2="223.97" y2="416.20" stroke="#000" stroke-width="2.0"/>
<line x1="228.25" y1="216.30" x2="228.25" y2="221.90" stroke="#000" stroke-width="2.0"/>
<line x1="228.25" y1="427.00" x2="228.25" y2="421.40" stroke="#000" stroke-width="2.0"/>
<line x1="232.54" y1="216.30" x2="232.54" y2="221.90" stroke="#000" stroke-width="2.0"/>
<line x1="232.54" y1="427.00" x2="232.54" y2="421.40" stroke="#000" stroke-width="2.0"/>
<line x1="236.82" y1="216.30" x2="236.82" y2="221.90" stroke="#000" stroke-width="2.0"/>
<line x1="236.82" y1="427.00" x2="236.82" y2="421.40" stroke="#000" stroke-width="2.0"/>
<line x1="241.10" y1="216.30" x2="241.10" y2="221.90" stroke="#000" stroke-width="2.0"/>
<line x1="241.10" y1="427.00" x2="241.10" y2="421.40" stroke="#000" stroke-width="2.0"/>
<line x1="245.39" y1="216.30" x2="245.39" y2="221.90" stroke="#000" stroke-width="2.0"/>
<line x1="245.39" y1="427.00" x2="245.39" y2="421.40" stroke="#000" stroke-width="2.0"/>
<line x1="249.67" y1="216.30" x2="249.67" y2="221.90" stroke="#000" stroke-width="2.0"/>
<line x1="249.67" y1="427.00" x2="249.67" y2="421.40" stroke="#000" stroke-width="2.0"/>
<line x1="253.95" y1="216.30" x2="253.95" y2="221.90" stroke="#000" stroke-width="2.0"/>
<line x1="253.95" y1="427.00" x2="253.95" y2="421.40" stroke="#000" stroke-width="2.0"/>
<line x1="258.24" y1="216.30" x2="258.24" y2="221.90" stroke="#000" stroke-width="2.0"/>
<line x1="258.24" y1="427.00" x2="258.24" y2="421.40" stroke="#000" stroke-width="2.0"/>
<line x1="262.52" y1="216.30" x2="262.52" y2="221.90" stroke="#000" stroke-width="2.0"/>
<line x1="262.52" y1="427.00" x2="262.52" y2="421.40" stroke="#000" stroke-width="2.0"/>
<line x1="266.80" y1="216.30" x2="266.80" y2="227.10" stroke="#000" stroke-width="2.0"/>
<line x1="266.80" y1="427.00" x2="266.80" y2="416.20" stroke="#000" stroke-width="2.0"/>
<line x1="271.08" y1="216.30" x2="271.08" y2="221.90" stroke="#000" stroke-width="2.0"/>
<line x1="271.08" y1="427.00" x2="271.08" y2="421.40" stroke="#000" stroke-width="2.0"/>
<line x1="275.37" y1="216.30" x2="275.37" y2="221.90" stroke="#000" stroke-width="2.0"/>
<line x1="275.37" y1="427.00" x2="275.37" y2="421.40" stroke="#000" stroke-width="2.0"/>
<line x1="279.65" y1="216.30" x2="279.65" y2="221.90" stroke="#000" stroke-width="2.0"/>
<line x1="279.65" y1="427.00" x2="279.65" y2="421.40" stroke="#000" stroke-width="2.0"/>
<line x1="283.93" y1="216.30" x2="283.93" y2="221.90" stroke="#000" stroke-width="2.0"/>
<line x1="283.93" y1="427.00" x2="283.93" y2="421.40" stroke="#000" stroke-width="2.0"/>
<line x1="288.22" y1="216.30" x2="288.22" y2="221.90" stroke="#000" stroke-width="2.0"/>
<line x1="288.22" y1="427.00" x2="288.22" y2="421.40" stroke="#000" stroke-width="2.0"/>
<line x1="292.50" y1="216.30" x2="292.50" y2="221.90" stroke="#000" stroke-width="2.0"/>
<line x1="292.50" y1="427.00" x2="292.50" y2="421.40" stroke="#000" stroke-width="2.0"/>
<line x1="65.50" y1="431.90" x2="65.50" y2="437.50" stroke="#000" stroke-width="2.0"/>
<line x1="65.50" y1="642.00" x2="65.50" y2="636.40" stroke="#000" stroke-width="2.0"/>
<line x1="69.78" y1="431.90" x2="69.78" y2="437.50" stroke="#000" stroke-width="2.0"/>
<line x1="69.78" y1="642.00" x2="69.78" y2="636.40" stroke="#000" stroke-width="2.0"/>
<line x1="74.07" y1="431.90" x2="74.07" y2="437.50" stroke="#000" stroke-width="2.0"/>
<line x1="74.07" y1="642.00" x2="74.07" y2="636.40" stroke="#000" stroke-width="2.0"/>
<line x1="78.35" y1="431.90" x2="78.35" y2="437.50" stroke="#000" stroke-width="2.0"/>
<line x1="78.35" y1="642.00" x2="78.35" y2="636.40" stroke="#000" stroke-width="2.0"/>
<line x1="82.63" y1="431.90" x2="82.63" y2="437.50" stroke="#000" stroke-width="2.0"/>
<line x1="82.63" y1="642.00" x2="82.63" y2="636.40" stroke="#000" stroke-width="2.0"/>
<line x1="86.92" y1="431.90" x2="86.92" y2="437.50" stroke="#000" stroke-width="2.0"/>
<line x1="86.92" y1="642.00" x2="86.92" y2="636.40" stroke="#000" stroke-width="2.0"/>
<line x1="91.20" y1="431.90" x2="91.20" y2="437.50" stroke="#000" stroke-width="2.0"/>
<line x1="91.20" y1="642.00" x2="91.20" y2="636.40" stroke="#000" stroke-width="2.0"/>
<line x1="95.48" y1="431.90" x2="95.48" y2="442.70" stroke="#000" stroke-width="2.0"/>
<line x1="95.48" y1="642.00" x2="95.48" y2="631.20" stroke="#000" stroke-width="2.0"/>
<line x1="99.76" y1="431.90" x2="99.76" y2="437.50" stroke="#000" stroke-width="2.0"/>
<line x1="99.76" y1="642.00" x2="99.76" y2="636.40" stroke="#000" stroke-width="2.0"/>
<line x1="104.05" y1="431.90" x2="104.05" y2="437.50" stroke="#000" stroke-width="2.0"/>
<line x1="104.05" y1="642.00" x2="104.05" y2="636.40" stroke="#000" stroke-width="2.0"/>
<line x1="108.33" y1="431.90" x2="108.33" y2="437.50" stroke="#000" stroke-width="2.0"/>
<line x1="108.33" y1="642.00" x2="108.33" y2="636.40" stroke="#000" stroke-width="2.0"/>
<line x1="112.61" y1="431.90" x2="112.61" y2="437.50" stroke="#000" stroke-width="2.0"/>
<line x1="112.61" y1="642.00" x2="112.61" y2="636.40" stroke="#000" stroke-width="2.0"/>
<line x1="116.90" y1="431.90" x2="116.90" y2="437.50" stroke="#000" stroke-width="2.0"/>
<line x1="116.90" y1="642.00" x2="116.90" y2="636.40" stroke="#000" stroke-width="2.0"/>
<line x1="121.18" y1="431.90" x2="121.18" y2="437.50" stroke="#000" stroke-width="2.0"/>
<line x1="121.18" y1="642.00" x2="121.18" y2="636.40" stroke="#000" stroke-width="2.0"/>
<line x1="125.46" y1="431.90" x2="125.46" y2="437.50" stroke="#000" stroke-width="2.0"/>
<line x1="125.46" y1="642.00" x2="125.46" y2="636.40" stroke="#000" stroke-width="2.0"/>
<line x1="129.75" y1="431.90" x2="129.75" y2="437.50" stroke="#000" stroke-width="2.0"/>
<line x1="129.75" y1="642.00" x2="129.75" y2="636.40" stroke="#000" stroke-width="2.0"/>
<line x1="134.03" y1="431.90" x2="134.03" y2="437.50" stroke="#000" stroke-width="2.0"/>
<line x1="134.03" y1="642.00" x2="134.03" y2="636.40" stroke="#000" stroke-width="2.0"/>
<line x1="138.31" y1="431.90" x2="138.31" y2="442.70" stroke="#000" stroke-width="2.0"/>
<line x1="138.31" y1="642.00" x2="138.31" y2="631.20" stroke="#000" stroke-width="2.0"/>
<line x1="142.59" y1="431.90" x2="142.59" y2="437.50" stroke="#000" stroke-width="2.0"/>
<line x1="142.59" y1="642.00" x2="142.59" y2="636.40" stroke="#000" stroke-width="2.0"/>
<line x1="146.88" y1="431.90" x2="146.88" y2="437.50" stroke="#000" stroke-width="2.0"/>
<line x1="146.88" y1="642.00" x2="146.88" y2="636.40" stroke="#000" stroke-width="2.0"/>
<line x1="151.16" y1="431.90" x2="151.16" y2="437.50" stroke="#000" stroke-width="2.0"/>
<line x1="151.16" y1="642.00" x2="151.16" y2="636.40" stroke="#000" stroke-width="2.0"/>
<line x1="155.44" y1="431.90" x2="155.44" y2="437.50" stroke="#000" stroke-width="2.0"/>
<line x1="155.44" y1="642.00" x2="155.44" y2="636.40" stroke="#000" stroke-width="2.0"/>
<line x1="159.73" y1="431.90" x2="159.73" y2="437.50" stroke="#000" stroke-width="2.0"/>
<line x1="159.73" y1="642.00" x2="159.73" y2="636.40" stroke="#000" stroke-width="2.0"/>
<line x1="164.01" y1="431.90" x2="164.01" y2="437.50" stroke="#000" stroke-width="2.0"/>
<line x1="164.01" y1="642.00" x2="164.01" y2="636.40" stroke="#000" stroke-width="2.0"/>
<line x1="168.29" y1="431.90" x2="168.29" y2="437.50" stroke="#000" stroke-width="2.0"/>
<line x1="168.29" y1="642.00" x2="168.29" y2="636.40" stroke="#000" stroke-width="2.0"/>
<line x1="172.58" y1="431.90" x2="172.58" y2="437.50" stroke="#000" stroke-width="2.0"/>
<line x1="172.58" y1="642.00" x2="172.58" y2="636.40" stroke="#000" stroke-width="2.0"/>
<line x1="176.86" y1="431.90" x2="176.86" y2="437.50" stroke="#000" stroke-width="2.0"/>
<line x1="176.86" y1="642.00" x2="176.86" y2="636.40" stroke="#000" stroke-width="2.0"/>
<line x1="181.14" y1="431.90" x2="181.14" y2="442.70" stroke="#000" stroke-width="2.0"/>
<line x1="181.14" y1="642.00" x2="181.14" y2="631.20" stroke="#000" stroke-width="2.0"/>
<line x1="185.42" y1="431.90" x2="185.42" y2="437.50" stroke="#000" stroke-width="2.0"/>
<line x1="185.42" y1="642.00" x2="185.42" y2="636.40" stroke="#000" stroke-width="2.0"/>
<line x1="189.71" y1="431.90" x2="189.71" y2="437.50" stroke="#000" stroke-width="2.0"/>
<line x1="189.71" y1="642.00" x2="189.71" y2="636.40" stroke="#000" stroke-width="2.0"/>
<line x1="193.99" y1="431.90" x2="193.99" y2="437.50" stroke="#000" stroke-width="2.0"/>
<line x1="193.99" y1="642.00" x2="193.99" y2="636.40" stroke="#000" stroke-width="2.0"/>
<line x1="198.27" y1="431.90" x2="198.27" y2="437.50" stroke="#000" stroke-width="2.0"/>
<line x1="198.27" y1="642.00" x2="198.27" y2="636.40" stroke="#000" stroke-width="2.0"/>
<line x1="202.56" y1="431.90" x2="202.56" y2="437.50" stroke="#000" stroke-width="2.0"/>
<line x1="202.56" y1="642.00" x2="202.56" y2="636.40" stroke="#000" stroke-width="2.0"/>
<line x1="206.84" y1="431.90" x2="206.84" y2="437.50" stroke="#000" stroke-width="2.0"/>
<line x1="206.84" y1="642.00" x2="206.84" y2="636.40" stroke="#000" stroke-width="2.0"/>
<line x1="211.12" y1="431.90" x2="211.12" y2="437.50" stroke="#000" stroke-width="2.0"/>
<line x1="211.12" y1="642.00" x2="211.12" y2="636.40" stroke="#000" stroke-width="2.0"/>
<line x1="215.41" y1="431.90" x2="215.41" y2="437.50" stroke="#000" stroke-width="2.0"/>
<line x1="215.41" y1="642.00" x2="215.41" y2="636.40" stroke="#000" stroke-width="2.0"/>
<line x1="219.69" y1="431.90" x2="219.69" y2="437.50" stroke="#000" stroke-width="2.0"/>
<line x1="219.69" y1="642.00" x2="219.69" y2="636.40" stroke="#000" stroke-width="2.0"/>
<line x1="223.97" y1="431.90" x2="223.97" y2="442.70" stroke="#000" stroke-width="2.0"/>
<line x1="223.97" y1="642.00" x2="223.97" y2="631.20" stroke="#000" stroke-width="2.0"/>
<line x1="228.25" y1="431.90" x2="228.25" y2="437.50" stroke="#000" stroke-width="2.0"/>
<line x1="228.25" y1="642.00" x2="228.25" y2="636.40" stroke="#000" stroke-width="2.0"/>
<line x1="232.54" y1="431.90" x2="232.54" y2="437.50" stroke="#000" stroke-width="2.0"/>
<line x1="232.54" y1="642.00" x2="232.54" y2="636.40" stroke="#000" stroke-width="2.0"/>
<line x1="236.82" y1="431.90" x2="236.82" y2="437.50" stroke="#000" stroke-width="2.0"/>
<line x1="236.82" y1="642.00" x2="236.82" y2="636.40" stroke="#000" stroke-width="2.0"/>
<line x1="241.10" y1="431.90" x2="241.10" y2="437.50" stroke="#000" stroke-width="2.0"/>
<line x1="241.10" y1="642.00" x2="241.10" y2="636.40" stroke="#000" stroke-width="2.0"/>
<line x1="245.39" y1="431.90" x2="245.39" y2="437.50" stroke="#000" stroke-width="2.0"/>
<line x1="245.39" y1="642.00" x2="245.39" y2="636.40" stroke="#000" stroke-width="2.0"/>
<line x1="249.67" y1="431.90" x2="249.67" y2="437.50" stroke="#000" stroke-width="2.0"/>
<line x1="249.67" y1="642.00" x2="249.67" y2="636.40" stroke="#000" stroke-width="2.0"/>
<line x1="253.95" y1="431.90" x2="253.95" y2="437.50" stroke="#000" stroke-width="2.0"/>
<line x1="253.95" y1="642.00" x2="253.95" y2="636.40" stroke="#000" stroke-width="2.0"/>
<line x1="258.24" y1="431.90" x2="258.24" y2="437.50" stroke="#000" stroke-width="2.0"/>
<line x1="258.24" y1="642.00" x2="258.24" y2="636.40" stroke="#000" stroke-width="2.0"/>
<line x1="262.52" y1="431.90" x2="262.52" y2="437.50" stroke="#000" stroke-width="2.0"/>
<line x1="262.52" y1="642.00" x2="262.52" y2="636.40" stroke="#000" stroke-width="2.0"/>
<line x1="266.80" y1="431.90" x2="266.80" y2="442.70" stroke="#000" stroke-width="2.0"/>
<line x1="266.80" y1="642.00" x2="266.80" y2="631.20" stroke="#000" stroke-width="2.0"/>
<line x1="271.08" y1="431.90" x2="271.08" y2="437.50" stroke="#000" stroke-width="2.0"/>
<line x1="271.08" y1="642.00" x2="271.08" y2="636.40" stroke="#000" stroke-width="2.0"/>
<line x1="275.37" y1="431.90" x2="275.37" y2="437.50" stroke="#000" stroke-width="2.0"/>
<line x1="275.37" y1="642.00" x2="275.37" y2="636.40" stroke="#000" stroke-width="2.0"/>
<line x1="279.65" y1="431.90" x2="279.65" y2="437.50" stroke="#000" stroke-width="2.0"/>
<line x1="279.65" y1="642.00" x2="279.65" y2="636.40" stroke="#000" stroke-width="2.0"/>
<line x1="283.93" y1="431.90" x2="283.93" y2="437.50" stroke="#000" stroke-width="2.0"/>
<line x1="283.93" y1="642.00" x2="283.93" y2="636.40" stroke="#000" stroke-width="2.0"/>
<line x1="288.22" y1="431.90" x2="288.22" y2="437.50" stroke="#000" stroke-width="2.0"/>
<line x1="288.22" y1="642.00" x2="288.22" y2="636.40" stroke="#000" stroke-width="2.0"/>
<line x1="292.50" y1="431.90" x2="292.50" y2="437.50" stroke="#000" stroke-width="2.0"/>
<line x1="292.50" y1="642.00" x2="292.50" y2="636.40" stroke="#000" stroke-width="2.0"/>
<line x1="65.50" y1="188.09" x2="56.40" y2="188.09" stroke="#000" stroke-width="2.0"/>
<line x1="65.50" y1="154.07" x2="56.40" y2="154.07" stroke="#000" stroke-width="2.0"/>
<line x1="65.50" y1="120.06" x2="56.40" y2="120.06" stroke="#000" stroke-width="2.0"/>
<line x1="65.50" y1="86.04" x2="56.40" y2="86.04" stroke="#000" stroke-width="2.0"/>
<line x1="65.50" y1="52.02" x2="56.40" y2="52.02" stroke="#000" stroke-width="2.0"/>
<line x1="65.50" y1="18.01" x2="56.40" y2="18.01" stroke="#000" stroke-width="2.0"/>
<line x1="65.50" y1="205.10" x2="61.20" y2="205.10" stroke="#000" stroke-width="2.0"/>
<line x1="65.50" y1="171.08" x2="61.20" y2="171.08" stroke="#000" stroke-width="2.0"/>
<line x1="65.50" y1="137.06" x2="61.20" y2="137.06" stroke="#000" stroke-width="2.0"/>
<line x1="65.50" y1="103.05" x2="61.20" y2="103.05" stroke="#000" stroke-width="2.0"/>
<line x1="65.50" y1="69.03" x2="61.20" y2="69.03" stroke="#000" stroke-width="2.0"/>
<line x1="65.50" y1="35.02" x2="61.20" y2="35.02" stroke="#000" stroke-width="2.0"/>
<line x1="65.50" y1="1.00" x2="61.20" y2="1.00" stroke="#000" stroke-width="2.0"/>
<line x1="292.50" y1="188.09" x2="301.60" y2="188.09" stroke="#000" stroke-width="2.0"/>
<line x1="292.50" y1="154.07" x2="301.60" y2="154.07" stroke="#000" stroke-width="2.0"/>
<line x1="292.50" y1="120.06" x2="301.60" y2="120.06" stroke="#000" stroke-width="2.0"/>
<line x1="292.50" y1="86.04" x2="301.60" y2="86.04" stroke="#000" stroke-width="2.0"/>
<line x1="292.50" y1="52.02" x2="301.60" y2="52.02" stroke="#000" stroke-width="2.0"/>
<line x1="292.50" y1="18.01" x2="301.60" y2="18.01" stroke="#000" stroke-width="2.0"/>
<line x1="292.50" y1="205.10" x2="296.80" y2="205.10" stroke="#000" stroke-width="2.0"/>
<line x1="292.50" y1="171.08" x2="296.80" y2="171.08" stroke="#000" stroke-width="2.0"/>
<line x1="292.50" y1="137.06" x2="296.80" y2="137.06" stroke="#000" stroke-width="2.0"/>
<line x1="292.50" y1="103.05" x2="296.80" y2="103.05" stroke="#000" stroke-width="2.0"/>
<line x1="292.50" y1="69.03" x2="296.80" y2="69.03" stroke="#000" stroke-width="2.0"/>
<line x1="292.50" y1="35.02" x2="296.80" y2="35.02" stroke="#000" stroke-width="2.0"/>
<line x1="292.50" y1="1.00" x2="296.80" y2="1.00" stroke="#000" stroke-width="2.0"/>
<line x1="65.50" y1="384.86" x2="56.40" y2="384.86" stroke="#000" stroke-width="2.0"/>
<line x1="65.50" y1="328.67" x2="56.40" y2="328.67" stroke="#000" stroke-width="2.0"/>
<line x1="65.50" y1="272.49" x2="56.40" y2="272.49" stroke="#000" stroke-width="2.0"/>
<line x1="65.50" y1="216.30" x2="56.40" y2="216.30" stroke="#000" stroke-width="2.0"/>
<line x1="65.50" y1="412.95" x2="61.20" y2="412.95" stroke="#000" stroke-width="2.0"/>
<line x1="65.50" y1="356.77" x2="61.20" y2="356.77" stroke="#000" stroke-width="2.0"/>
<line x1="65.50" y1="300.58" x2="61.20" y2="300.58" stroke="#000" stroke-width="2.0"/>
<line x1="65.50" y1="244.39" x2="61.20" y2="244.39" stroke="#000" stroke-width="2.0"/>
<line x1="292.50" y1="384.86" x2="301.60" y2="384.86" stroke="#000" stroke-width="2.0"/>
<line x1="292.50" y1="328.67" x2="301.60" y2="328.67" stroke="#000" stroke-width="2.0"/>
<line x1="292.50" y1="272.49" x2="301.60" y2="272.49" stroke="#000" stroke-width="2.0"/>
<line x1="292.50" y1="216.30" x2="301.60" y2="216.30" stroke="#000" stroke-width="2.0"/>
<line x1="292.50" y1="412.95" x2="296.80" y2="412.95" stroke="#000" stroke-width="2.0"/>
<line x1="292.50" y1="356.77" x2="296.80" y2="356.77" stroke="#000" stroke-width="2.0"/>
<line x1="292.50" y1="300.58" x2="296.80" y2="300.58" stroke="#000" stroke-width="2.0"/>
<line x1="292.50" y1="244.39" x2="296.80" y2="244.39" stroke="#000" stroke-width="2.0"/>
<line x1="65.50" y1="642.00" x2="56.40" y2="642.00" stroke="#000" stroke-width="2.0"/>
<line x1="65.50" y1="594.25" x2="56.40" y2="594.25" stroke="#000" stroke-width="2.0"/>
<line x1="65.50" y1="546.50" x2="56.40" y2="546.50" stroke="#000" stroke-width="2.0"/>
<line x1="65.50" y1="498.75" x2="56.40" y2="498.75" stroke="#000" stroke-width="2.0"/>
<line x1="65.50" y1="451.00" x2="56.40" y2="451.00" stroke="#000" stroke-width="2.0"/>
<line x1="65.50" y1="632.45" x2="61.20" y2="632.45" stroke="#000" stroke-width="2.0"/>
<line x1="65.50" y1="622.90" x2="61.20" y2="622.90" stroke="#000" stroke-width="2.0"/>
<line x1="65.50" y1="613.35" x2="61.20" y2="613.35" stroke="#000" stroke-width="2.0"/>
<line x1="65.50" y1="603.80" x2="61.20" y2="603.80" stroke="#000" stroke-width="2.0"/>
<line x1="65.50" y1="584.70" x2="61.20" y2="584.70" stroke="#000" stroke-width="2.0"/>
<line x1="65.50" y1="575.15" x2="61.20" y2="575.15" stroke="#000" stroke-width="2.0"/>
<line x1="65.50" y1="565.60" x2="61.20" y2="565.60" stroke="#000" stroke-width="2.0"/>
<line x1="65.50" y1="556.05" x2="61.20" y2="556.05" stroke="#000" stroke-width="2.0"/>
<line x1="65.50" y1="536.95" x2="61.20" y2="536.95" stroke="#000" stroke-width="2.0"/>
<line x1="65.50" y1="527.40" x2="61.20" y2="527.40" stroke="#000" stroke-width="2.0"/>
<line x1="65.50" y1="517.85" x2="61.20" y2="517.85" stroke="#000" stroke-width="2.0"/>
<line x1="65.50" y1="508.30" x2="61.20" y2="508.30" stroke="#000" stroke-width="2.0"/>
<line x1="65.50" y1="489.20" x2="61.20" y2="489.20" stroke="#000" stroke-width="2.0"/>
<line x1="65.50" y1="479.65" x2="61.20" y2="479.65" stroke="#000" stroke-width="2.0"/>
<line x1="65.50" y1="470.10" x2="61.20" y2="470.10" stroke="#000" stroke-width="2.0"/>
<line x1="65.50" y1="460.55" x2="61.20" y2="460.55" stroke="#000" stroke-width="2.0"/>
<line x1="65.50" y1="441.45" x2="61.20" y2="441.45" stroke="#000" stroke-width="2.0"/>
<line x1="65.50" y1="431.90" x2="61.20" y2="431.90" stroke="#000" stroke-width="2.0"/>
<line x1="292.50" y1="642.00" x2="301.60" y2="642.00" stroke="#1428fa" stroke-width="2.0"/>
<line x1="292.50" y1="589.48" x2="301.60" y2="589.48" stroke="#1428fa" stroke-width="2.0"/>
<line x1="292.50" y1="536.95" x2="301.60" y2="536.95" stroke="#1428fa" stroke-width="2.0"/>
<line x1="292.50" y1="484.42" x2="301.60" y2="484.42" stroke="#1428fa" stroke-width="2.0"/>
<line x1="292.50" y1="431.90" x2="301.60" y2="431.90" stroke="#1428fa" stroke-width="2.0"/>
<line x1="292.50" y1="628.87" x2="296.80" y2="628.87" stroke="#1428fa" stroke-width="2.0"/>
<line x1="292.50" y1="615.74" x2="296.80" y2="615.74" stroke="#1428fa" stroke-width="2.0"/>
<line x1="292.50" y1="602.61" x2="296.80" y2="602.61" stroke="#1428fa" stroke-width="2.0"/>
<line x1="292.50" y1="576.34" x2="296.80" y2="576.34" stroke="#1428fa" stroke-width="2.0"/>
<line x1="292.50" y1="563.21" x2="296.80" y2="563.21" stroke="#1428fa" stroke-width="2.0"/>
<line x1="292.50" y1="550.08" x2="296.80" y2="550.08" stroke="#1428fa" stroke-width="2.0"/>
<line x1="292.50" y1="523.82" x2="296.80" y2="523.82" stroke="#1428fa" stroke-width="2.0"/>
<line x1="292.50" y1="510.69" x2="296.80" y2="510.69" stroke="#1428fa" stroke-width="2.0"/>
<line x1="292.50" y1="497.56" x2="296.80" y2="497.56" stroke="#1428fa" stroke-width="2.0"/>
<line x1="292.50" y1="471.29" x2="296.80" y2="471.29" stroke="#1428fa" stroke-width="2.0"/>
<line x1="292.50" y1="458.16" x2="296.80" y2="458.16" stroke="#1428fa" stroke-width="2.0"/>
<line x1="292.50" y1="445.03" x2="296.80" y2="445.03" stroke="#1428fa" stroke-width="2.0"/>
<path d="M65.5,1.0 H292.5 M65.5,211.9 H292.5 M65.5,0.0 V212.9" stroke="#000" stroke-width="2.0" fill="none"/>
<path d="M292.5,0.0 V212.9" stroke="#000" stroke-width="2.0" fill="none"/>
<path d="M65.5,216.3 H292.5 M65.5,427.0 H292.5 M65.5,215.3 V428.0" stroke="#000" stroke-width="2.0" fill="none"/>
<path d="M292.5,215.3 V428.0" stroke="#000" stroke-width="2.0" fill="none"/>
<path d="M65.5,431.9 H292.5 M65.5,642.0 H292.5 M65.5,430.9 V643.0" stroke="#000" stroke-width="2.0" fill="none"/>
<path d="M292.5,430.9 V643.0" stroke="#1428fa" stroke-width="2.0" fill="none"/>
<text x="51.40" y="193.49" font-size="15" fill="#000" stroke="#000" stroke-width="0.25" text-anchor="end" >400</text>
<text x="51.40" y="159.47" font-size="15" fill="#000" stroke="#000" stroke-width="0.25" text-anchor="end" >500</text>
<text x="51.40" y="125.46" font-size="15" fill="#000" stroke="#000" stroke-width="0.25" text-anchor="end" >600</text>
<text x="51.40" y="91.44" font-size="15" fill="#000" stroke="#000" stroke-width="0.25" text-anchor="end" >700</text>
<text x="51.40" y="57.42" font-size="15" fill="#000" stroke="#000" stroke-width="0.25" text-anchor="end" >800</text>
<text x="51.40" y="23.41" font-size="15" fill="#000" stroke="#000" stroke-width="0.25" text-anchor="end" >900</text>
<text x="51.40" y="390.26" font-size="15" fill="#000" stroke="#000" stroke-width="0.25" text-anchor="end" >200</text>
<text x="51.40" y="334.07" font-size="15" fill="#000" stroke="#000" stroke-width="0.25" text-anchor="end" >400</text>
<text x="51.40" y="277.89" font-size="15" fill="#000" stroke="#000" stroke-width="0.25" text-anchor="end" >600</text>
<text x="51.40" y="225.30" font-size="15" fill="#000" stroke="#000" stroke-width="0.25" text-anchor="end" >800</text>
<text x="51.40" y="642.40" font-size="15" fill="#000" stroke="#000" stroke-width="0.25" text-anchor="end" >0</text>
<text x="51.40" y="599.65" font-size="15" fill="#000" stroke="#000" stroke-width="0.25" text-anchor="end" >50</text>
<text x="51.40" y="551.90" font-size="15" fill="#000" stroke="#000" stroke-width="0.25" text-anchor="end" >100</text>
<text x="51.40" y="504.15" font-size="15" fill="#000" stroke="#000" stroke-width="0.25" text-anchor="end" >150</text>
<text x="51.40" y="456.40" font-size="15" fill="#000" stroke="#000" stroke-width="0.25" text-anchor="end" >200</text>
<text x="304.80" y="642.20" font-size="15" fill="#1428fa" stroke="#1428fa" stroke-width="0.25" text-anchor="start" >0</text>
<text x="304.80" y="594.88" font-size="15" fill="#1428fa" stroke="#1428fa" stroke-width="0.25" text-anchor="start" >20</text>
<text x="304.80" y="542.35" font-size="15" fill="#1428fa" stroke="#1428fa" stroke-width="0.25" text-anchor="start" >40</text>
<text x="304.80" y="489.82" font-size="15" fill="#1428fa" stroke="#1428fa" stroke-width="0.25" text-anchor="start" >60</text>
<text x="304.80" y="440.80" font-size="15" fill="#1428fa" stroke="#1428fa" stroke-width="0.25" text-anchor="start" >80</text>
<text x="95.48" y="656.10" font-size="11" fill="#000" stroke="#000" stroke-width="0.15" text-anchor="middle" >1970</text>
<text x="138.31" y="656.10" font-size="11" fill="#000" stroke="#000" stroke-width="0.15" text-anchor="middle" >1980</text>
<text x="181.14" y="656.10" font-size="11" fill="#000" stroke="#000" stroke-width="0.15" text-anchor="middle" >1990</text>
<text x="223.97" y="656.10" font-size="11" fill="#000" stroke="#000" stroke-width="0.15" text-anchor="middle" >2000</text>
<text x="266.80" y="656.10" font-size="11" fill="#000" stroke="#000" stroke-width="0.15" text-anchor="middle" >2010</text>
<text x="14.90" y="106.80" font-size="15.5" fill="#000" stroke="#000" stroke-width="0.25" text-anchor="middle" transform="rotate(-90 14.90 106.80)" >Slope&#160; [K km<tspan dy="-7.4" font-size="8">-1</tspan><tspan dy="7.4" dx="1"> s]</tspan></text>
<text x="14.90" y="321.30" font-size="15.5" fill="#000" stroke="#000" stroke-width="0.25" text-anchor="middle" transform="rotate(-90 14.90 321.30)" >Slope&#160; [K km<tspan dy="-7.4" font-size="8">-1</tspan><tspan dy="7.4" dx="1"> s]</tspan></text>
<text x="14.90" y="537.40" font-size="15.5" fill="#000" stroke="#000" stroke-width="0.25" text-anchor="middle" transform="rotate(-90 14.90 537.40)" >Sunspot Number</text>
<text x="336.00" y="536.40" font-size="15.5" fill="#1428fa" stroke="#1428fa" stroke-width="0.25" text-anchor="middle" transform="rotate(-90 336.00 536.40)" >Current Sheet Tilt [deg]</text>
<text x="349.30" y="534.90" font-size="15.5" fill="#1428fa" stroke="#1428fa" stroke-width="0.25" text-anchor="middle" transform="rotate(-90 349.30 534.90)" >WSO Radial</text>
<text x="111.70" y="29.20" font-size="11.15" fill="#3f7ef6" stroke="#3f7ef6" stroke-width="0.0" text-anchor="start" >ACE 330. ≤ V ≤ 850. [km s<tspan dy="-6" font-size="6.5">-1</tspan><tspan dy="6" dx="1.2">]</tspan></text>
<text x="111.70" y="40.10" font-size="11.15" fill="#e88a28" stroke="#e88a28" stroke-width="0.0" text-anchor="start" >ACE V ≥ 570. [km s<tspan dy="-6" font-size="6.5">-1</tspan><tspan dy="6" dx="1.2">]</tspan></text>
<text x="111.70" y="178.30" font-size="11.15" fill="#000" stroke="#000" stroke-width="0.0" text-anchor="start" >OMNI 330. ≤ V ≤ 850. [km s<tspan dy="-6" font-size="6.5">-1</tspan><tspan dy="6" dx="1.2">]</tspan></text>
<text x="111.70" y="190.10" font-size="11.15" fill="#e00008" stroke="#e00008" stroke-width="0.0" text-anchor="start" >OMNI V ≥ 570. [km s<tspan dy="-6" font-size="6.5">-1</tspan><tspan dy="6" dx="1.2">]</tspan></text>
<text x="111.70" y="355.50" font-size="11.15" fill="#2a6418" stroke="#2a6418" stroke-width="0.0" text-anchor="start" >ACE V ≤ 450. [km s<tspan dy="-6" font-size="6.5">-1</tspan><tspan dy="6" dx="1.2">]</tspan></text>
<text x="111.70" y="367.70" font-size="11.15" fill="#dc8a9c" stroke="#dc8a9c" stroke-width="0.0" text-anchor="start" >ACE 330. ≤ V ≤ 450. [km s<tspan dy="-6" font-size="6.5">-1</tspan><tspan dy="6" dx="1.2">]</tspan></text>
<text x="111.70" y="392.30" font-size="11.15" fill="#74f62e" stroke="#74f62e" stroke-width="0.0" text-anchor="start" >OMNI V&#160; ≤ 450. [km s<tspan dy="-6" font-size="6.5">-1</tspan><tspan dy="6" dx="1.2">]</tspan></text>
<text x="111.70" y="404.30" font-size="11.15" fill="#8c44ec" stroke="#8c44ec" stroke-width="0.0" text-anchor="start" >OMNI 330. ≤ V ≤ 450. [km s<tspan dy="-6" font-size="6.5">-1</tspan><tspan dy="6" dx="1.2">]</tspan></text></svg></body></html>
